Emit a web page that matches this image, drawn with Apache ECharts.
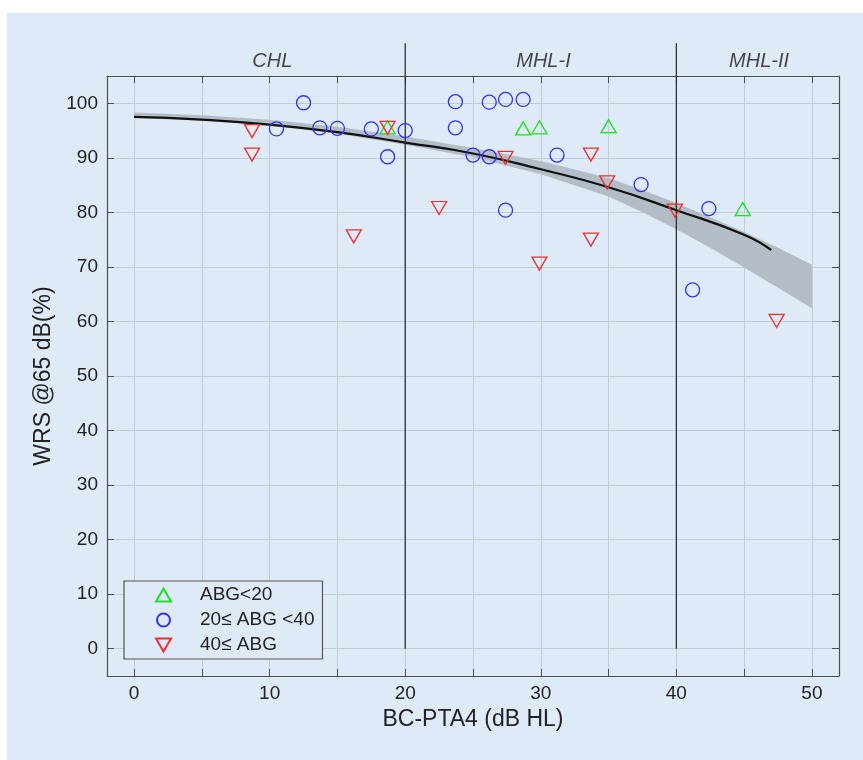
<!DOCTYPE html>
<html>
<head>
<meta charset="utf-8">
<script src="https://cdn.jsdelivr.net/npm/echarts@6/dist/echarts.min.js"></script>
<style>
  body { margin: 0; background: #fff; }
  #bg { position: absolute; left: 7px; top: 13px; width: 856px; height: 747px; background: #deeaf7; }
  #chart { position: absolute; left: 0; top: 0; width: 863px; height: 760px; }
</style>
</head>
<body>
<div id="bg"></div>
<div id="chart"></div>
<script>
// scatter groups: [BC-PTA4, WRS]
const abgLow = [[18.7, 95.6], [28.7, 95.4], [29.9, 95.6], [35.0, 95.8], [44.9, 80.6]];
const abgMid = [
    [10.5, 95.3], [12.5, 100.1], [13.7, 95.5], [15.0, 95.4], [17.5, 95.3], [18.7, 90.2],
    [20.0, 95.0], [23.7, 100.3], [23.7, 95.5], [26.2, 100.2], [27.4, 100.7], [28.7, 100.7],
    [25.0, 90.5], [26.2, 90.2], [27.4, 80.4], [31.2, 90.5], [37.4, 85.1], [42.4, 80.7], [41.2, 65.8]
];
const abgHigh = [
    [8.7, 94.9], [8.7, 90.6], [16.2, 75.6], [18.7, 95.5], [22.5, 80.8], [27.4, 90.0],
    [29.9, 70.6], [33.7, 90.6], [33.7, 75.0], [34.9, 85.5], [39.9, 80.3], [47.4, 60.1]
];

// regression curve and its band
const fitX = [0, 5, 10, 15, 20, 25, 30, 35, 40, 45, 47];
const fitY = [97.5, 97.0, 96.1, 94.7, 92.8, 90.8, 87.9, 84.6, 80.4, 75.9, 73.1];
const bandX = [0, 5, 10, 15, 20, 25, 30, 35, 37.5, 40, 42.5, 45, 47.5, 50];
const bandLower = [97.3, 96.8, 95.9, 94.4, 92.4, 90.1, 87.0, 82.9, 80.0, 76.9, 73.5, 69.9, 66.2, 62.4];
const bandUpper = [98.3, 97.8, 97.0, 95.7, 93.9, 91.8, 89.4, 86.3, 84.1, 81.7, 79.1, 76.4, 73.5, 70.4];

// region separators and names
const regionBounds = [20, 40];
const regionNames = ['CHL', 'MHL-I', 'MHL-II'];
const regionCenters = [10.2, 30.2, 46.1];

const legendNames = ['ABG<20', '20≤ ABG <40', '40≤ ABG'];

const FONT = 'Liberation Sans, Arial, sans-serif';
const AXIS_COLOR = '#4a4f55';
const GRID_COLOR = '#c3ccd6';
const downTriangle = 'path://M0,0 L10,0 L5,8.66 Z';

const chart = echarts.init(document.getElementById('chart'));

const makeX = (pos, main) => ({
    type: 'value', position: pos, min: -2, max: 52, minInterval: 5, maxInterval: 5,
    axisLine: { show: true, onZero: false, lineStyle: { color: AXIS_COLOR, width: 1.2 } },
    axisTick: { show: true, inside: true, length: 7, lineStyle: { color: AXIS_COLOR } },
    splitLine: { show: main, lineStyle: { color: GRID_COLOR, width: 1 } },
    axisLabel: {
        show: main, margin: 8, color: '#222', fontFamily: FONT, fontSize: 19,
        formatter: v => (v % 10 === 0 ? String(v) : '')
    },
    name: main ? 'BC-PTA4 (dB HL)' : '', nameLocation: 'middle', nameGap: 32,
    nameTextStyle: { color: '#222', fontFamily: FONT, fontSize: 23 }
});
const makeY = (pos, main) => ({
    type: 'value', position: pos, min: -5, max: 105, minInterval: 10, maxInterval: 10,
    axisLine: { show: true, onZero: false, lineStyle: { color: AXIS_COLOR, width: 1.2 } },
    axisTick: { show: true, inside: true, length: 7, lineStyle: { color: AXIS_COLOR } },
    splitLine: { show: main, lineStyle: { color: GRID_COLOR, width: 1 } },
    axisLabel: {
        show: main, margin: 9, color: '#222', fontFamily: FONT, fontSize: 19,
        formatter: v => (v % 10 === 0 ? String(v) : '')
    },
    name: main ? 'WRS @65 dB(%)' : '', nameLocation: 'middle', nameGap: 35,
    nameTextStyle: { color: '#222', fontFamily: FONT, fontSize: 23 }
});

const hollow = color => ({ color: 'rgba(0,0,0,0)', borderColor: color, borderWidth: 1.3, opacity: 1 });

// confidence band drawn as one polygon through the axis scales
const renderBand = (params, api) => {
    const upper = bandX.map((x, i) => api.coord([x, bandUpper[i]]));
    const lower = bandX.map((x, i) => api.coord([x, bandLower[i]])).reverse();
    return {
        type: 'polygon',
        shape: { points: upper.concat(lower) },
        style: { fill: '#b3bdc7', stroke: null }
    };
};

const option = {
    animation: false,
    grid: { left: 107, right: 24, top: 76, bottom: 84 },
    xAxis: [makeX('bottom', true), makeX('top', false)],
    yAxis: [makeY('left', true), makeY('right', false)],
    legend: {
        left: 124, top: 581, orient: 'vertical',
        data: legendNames,
        itemWidth: 15, itemHeight: 13, itemGap: 5,
        padding: [4, 8, 4, 31],
        backgroundColor: '#deeaf7', borderColor: '#555', borderWidth: 1.2, borderRadius: 0,
        textStyle: { color: '#222', fontFamily: FONT, fontSize: 19, lineHeight: 20, padding: [0, 0, 0, 24] }
    },
    series: [
        {
            type: 'custom', data: [[bandX[0], bandLower[0]]], renderItem: renderBand,
            silent: true, z: 1
        },
        {
            type: 'line', data: fitX.map((x, i) => [x, fitY[i]]), smooth: true, symbol: 'none',
            lineStyle: { color: '#111', width: 2.2 }, z: 3
        },
        ...regionBounds.map(b => ({
            type: 'line', data: [[b, 0], [b, 111]], symbol: 'none', clip: false,
            lineStyle: { color: '#222', width: 1.2 }, z: 4
        })),
        {
            type: 'scatter', symbolSize: 0, clip: false, silent: true, z: 4,
            data: regionNames.map((n, i) => [regionCenters[i], 107.6, n]),
            label: {
                show: true, position: 'inside', formatter: p => p.data[2],
                color: '#1a1a1a', fontFamily: FONT, fontSize: 20, fontStyle: 'italic'
            }
        },
        {
            name: legendNames[0], type: 'scatter', data: abgLow, symbol: 'triangle',
            symbolSize: [15, 13], itemStyle: hollow('#1ee01e'), z: 5
        },
        {
            name: legendNames[1], type: 'scatter', data: abgMid, symbol: 'circle',
            symbolSize: 14, itemStyle: hollow('#3232f0'), z: 5
        },
        {
            name: legendNames[2], type: 'scatter', data: abgHigh, symbol: downTriangle,
            symbolSize: [15, 13], itemStyle: hollow('#ec3030'), z: 5
        }
    ]
};

chart.setOption(option);
</script>
</body>
</html>
